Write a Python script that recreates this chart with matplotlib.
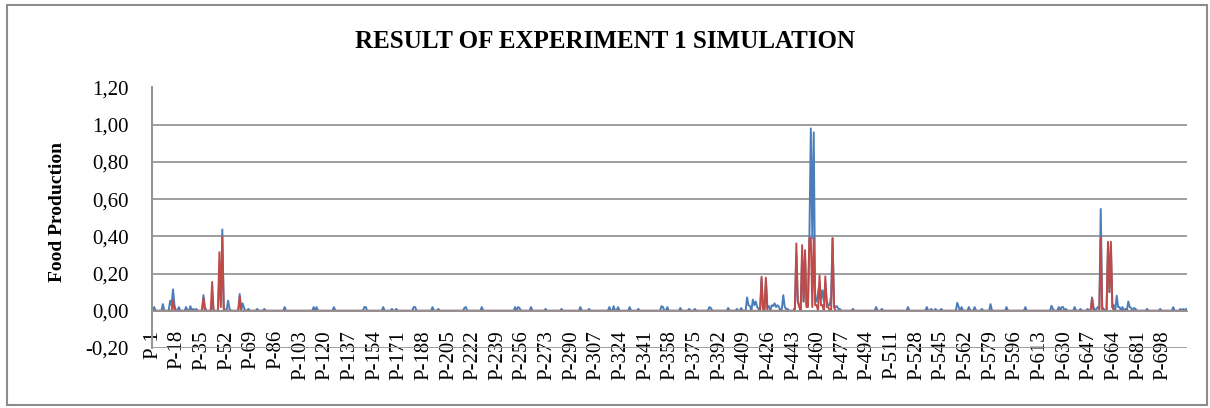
import matplotlib
matplotlib.use("Agg")
import matplotlib.pyplot as plt
from matplotlib.patches import Rectangle
import numpy as np

# number of categories P-1 .. P-714
n_points = 714
tick_step = 17

# non-zero values (index: value), the rest is 0
blue_vals = {
    1: 0.02, 7: 0.036, 12: 0.054, 13: 0.03, 14: 0.115, 15: 0.03, 18: 0.02,
    23: 0.02, 26: 0.025, 28: 0.01, 30: 0.01, 35: 0.084, 36: 0.02, 41: 0.05,
    46: 0.2, 47: 0.05, 48: 0.437, 49: 0.02, 52: 0.055, 53: 0.01, 60: 0.09,
    62: 0.04, 63: 0.015, 66: 0.01, 72: 0.01, 77: 0.01,
    91: 0.02, 111: 0.02, 113: 0.02, 125: 0.02, 146: 0.02, 147: 0.02,
    159: 0.02, 165: 0.01, 168: 0.01, 180: 0.02, 181: 0.02, 193: 0.02,
    197: 0.01, 215: 0.015, 216: 0.02, 227: 0.02, 250: 0.02, 252: 0.02,
    253: 0.015, 261: 0.02, 271: 0.01, 282: 0.01, 295: 0.02, 301: 0.01,
    315: 0.02, 318: 0.025, 321: 0.02, 329: 0.02, 335: 0.01, 351: 0.025,
    352: 0.02, 355: 0.02, 364: 0.015, 370: 0.01, 374: 0.01, 384: 0.02,
    385: 0.015, 397: 0.015, 403: 0.01, 406: 0.015,
    410: 0.072, 411: 0.03, 412: 0.025, 414: 0.06, 415: 0.03, 416: 0.05,
    417: 0.02, 418: 0.01, 420: 0.17, 421: 0.02, 423: 0.16, 424: 0.02,
    425: 0.025, 427: 0.03, 428: 0.025, 429: 0.04, 430: 0.02, 431: 0.03,
    432: 0.02, 434: 0.01, 435: 0.084, 436: 0.02, 437: 0.01, 438: 0.01,
    443: 0.02, 444: 0.3, 445: 0.05, 446: 0.03, 448: 0.3, 449: 0.05,
    450: 0.3, 451: 0.03, 452: 0.03, 453: 0.39, 454: 0.98, 455: 0.39,
    456: 0.959, 457: 0.05, 458: 0.05, 459: 0.1, 460: 0.15, 461: 0.06,
    462: 0.11, 463: 0.05, 464: 0.15, 465: 0.05, 466: 0.03, 467: 0.03,
    468: 0.08, 469: 0.39, 470: 0.03, 471: 0.02, 472: 0.025, 473: 0.01,
    474: 0.01, 483: 0.01, 499: 0.02, 503: 0.01, 521: 0.02, 534: 0.02,
    537: 0.01, 540: 0.01, 544: 0.01, 555: 0.043, 556: 0.02, 558: 0.02,
    563: 0.02, 567: 0.02, 572: 0.01, 578: 0.036, 589: 0.02, 602: 0.02,
    620: 0.027, 621: 0.01, 625: 0.02, 627: 0.02, 628: 0.02, 630: 0.01,
    636: 0.02, 640: 0.01, 645: 0.01, 648: 0.072, 649: 0.02, 651: 0.01,
    652: 0.02, 653: 0.01, 654: 0.547, 655: 0.02, 656: 0.01, 659: 0.35,
    660: 0.1, 661: 0.35, 662: 0.02, 663: 0.03, 665: 0.081, 666: 0.02,
    667: 0.02, 669: 0.02, 671: 0.01, 673: 0.05, 674: 0.02, 675: 0.015,
    677: 0.015, 678: 0.01, 686: 0.01, 695: 0.01, 704: 0.02, 709: 0.01,
    711: 0.01, 713: 0.01,
}
red_vals = {
    14: 0.057, 35: 0.07, 41: 0.155, 46: 0.315, 47: 0.02, 48: 0.395,
    60: 0.077, 420: 0.183, 421: 0.01, 423: 0.178,
    444: 0.362, 445: 0.05, 446: 0.02, 448: 0.353, 449: 0.05, 450: 0.326,
    451: 0.02, 452: 0.02, 453: 0.39, 454: 0.39, 455: 0.02, 456: 0.39,
    457: 0.03, 458: 0.03, 460: 0.19, 461: 0.03, 462: 0.03, 464: 0.185,
    465: 0.02, 466: 0.02, 469: 0.39, 470: 0.02,
    648: 0.065, 654: 0.392, 659: 0.371, 660: 0.1, 661: 0.371, 662: 0.02,
}

labels = ["P-%d" % (i + 1) for i in range(n_points)]
blue = np.zeros(n_points)
red = np.zeros(n_points)
for k, v in blue_vals.items():
    blue[k] = v
for k, v in red_vals.items():
    red[k] = v

plt.rcParams['font.family'] = ['Liberation Serif', 'DejaVu Serif']

fig = plt.figure(figsize=(12.1, 4.08), dpi=100)
ax = fig.add_axes([152 / 1210, 1 - 348 / 408, 1035 / 1210, 260.5 / 408])

x = np.arange(n_points)
ax.plot(x, blue, color='#4a7ebb', lw=1.4)
ax.plot(x, red, color='#be4b48', lw=1.4)

# spines first: moving a spine resets the tick settings
for s in ['top', 'right']:
    ax.spines[s].set_visible(False)
ax.spines['left'].set_color('#969696')
ax.spines['left'].set_linewidth(1.5)
ax.spines['bottom'].set_position(('data', 0))
ax.spines['bottom'].set_color('#969696')
ax.spines['bottom'].set_linewidth(1.3)

ax.set_xlim(-0.5, n_points - 0.5)
ax.set_ylim(-0.2, 1.2)
yt = np.arange(-0.2, 1.21, 0.2)
ax.set_yticks(yt)
ax.set_yticklabels([("%.2f" % v).replace('.', ',') for v in yt], fontsize=15)
ax.yaxis.grid(True, color='#969696', lw=1.3)
ax.set_axisbelow(True)

ticks = list(range(0, n_points, tick_step))
ax.set_xticks(ticks)
ax.set_xticklabels([labels[i] for i in ticks], rotation=90, fontsize=15)
ax.tick_params(axis='x', length=0, pad=14)
ax.tick_params(axis='y', length=0, pad=17)

fig.text(605 / 1210, 1 - 48 / 408, 'RESULT OF EXPERIMENT 1 SIMULATION',
         ha='center', va='baseline', fontsize=18, fontweight='bold')
fig.text(58 / 1210, 1 - 212 / 408, 'Food Production', rotation=90,
         ha='center', va='center', fontsize=14, fontweight='bold')

fig.patches.append(Rectangle((7 / 1210, 3 / 408), 1200 / 1210, 400 / 408,
                             transform=fig.transFigure, fill=False,
                             edgecolor='#8c8c8c', lw=1.5))

fig.savefig('out.png', dpi=100)
